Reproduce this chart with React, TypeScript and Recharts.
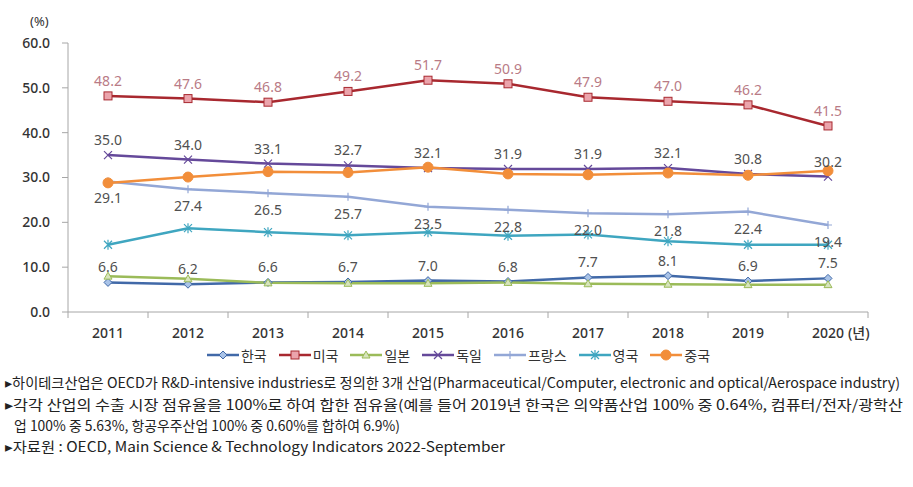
import { LineChart, Line, XAxis, YAxis, LabelList } from "recharts";

const years = [2011, 2012, 2013, 2014, 2015, 2016, 2017, 2018, 2019, 2020];
const korea = [6.6, 6.2, 6.6, 6.7, 7.0, 6.8, 7.7, 8.1, 6.9, 7.5];
const usa = [48.2, 47.6, 46.8, 49.2, 51.7, 50.9, 47.9, 47.0, 46.2, 41.5];
const japan = [8.0, 7.4, 6.5, 6.4, 6.4, 6.6, 6.3, 6.2, 6.1, 6.1];
const germany = [35.0, 34.0, 33.1, 32.7, 32.1, 31.9, 31.9, 32.1, 30.8, 30.2];
const france = [29.1, 27.4, 26.5, 25.7, 23.5, 22.8, 22.0, 21.8, 22.4, 19.4];
const uk = [15.0, 18.7, 17.8, 17.1, 17.8, 17.0, 17.3, 15.8, 15.0, 15.0];
const china = [28.8, 30.1, 31.3, 31.1, 32.3, 30.8, 30.6, 31.0, 30.5, 31.5];
const yTicks = [0, 10, 20, 30, 40, 50, 60];

const footnotes = [
  "▸하이테크산업은 OECD가 R&D-intensive industries로 정의한 3개 산업(Pharmaceutical/Computer, electronic and optical/Aerospace industry)",
  "▸각각 산업의 수출 시장 점유율을 100%로 하여 합한 점유율(예를 들어 2019년 한국은 의약품산업 100% 중 0.64%, 컴퓨터/전자/광학산",
  "업 100% 중 5.63%, 항공우주산업 100% 중 0.60%를 합하여 6.9%)",
  "▸자료원 : OECD, Main Science & Technology Indicators 2022-September",
];

type Shape = "diamond" | "square" | "triangle" | "x" | "plus" | "star" | "circle";

const series: {
  key: string; name: string; values: number[]; color: string; fill: string;
  shape: Shape; label?: "top" | "bottom"; labelColor?: string;
}[] = [
  { key: "korea", name: "한국", values: korea, color: "#4169a8", fill: "#a9c3e8", shape: "diamond", label: "top", labelColor: "#505050" },
  { key: "usa", name: "미국", values: usa, color: "#a8282f", fill: "#eba4ac", shape: "square", label: "top", labelColor: "#b97b86" },
  { key: "japan", name: "일본", values: japan, color: "#9bbb59", fill: "#d7e4bd", shape: "triangle" },
  { key: "germany", name: "독일", values: germany, color: "#65499a", fill: "#65499a", shape: "x", label: "top", labelColor: "#505050" },
  { key: "france", name: "프랑스", values: france, color: "#93a7d6", fill: "#93a7d6", shape: "plus", label: "bottom", labelColor: "#505050" },
  { key: "uk", name: "영국", values: uk, color: "#3fa6c0", fill: "#3fa6c0", shape: "star" },
  { key: "china", name: "중국", values: china, color: "#f28e3a", fill: "#f28e3a", shape: "circle" },
];

const data = years.map((year, i) => {
  const row: Record<string, number> = { year };
  series.forEach((s) => (row[s.key] = s.values[i]));
  return row;
});

// 카테고리 경계(눈금선) + 중앙(연도 라벨)
const xTicks = [...years.map((y) => y - 0.5), years[years.length - 1] + 0.5, ...years].sort((a, b) => a - b);

const FONT = "'Noto Sans', 'Noto Sans CJK KR', sans-serif";

function Marker({ shape, cx, cy, color, fill }: { shape: Shape; cx: number; cy: number; color: string; fill: string }) {
  const r = 4;
  switch (shape) {
    case "diamond":
      return <path d={`M${cx},${cy - r} L${cx + r},${cy} L${cx},${cy + r} L${cx - r},${cy} Z`} fill={fill} stroke={color} strokeWidth={1} />;
    case "square":
      return <rect x={cx - 4} y={cy - 4} width={8} height={8} fill={fill} stroke={color} strokeWidth={1} />;
    case "triangle":
      return <path d={`M${cx},${cy - r} L${cx + r},${cy + r - 1} L${cx - r},${cy + r - 1} Z`} fill={fill} stroke={color} strokeWidth={1} />;
    case "x":
      return <path d={`M${cx - r},${cy - r} L${cx + r},${cy + r} M${cx - r},${cy + r} L${cx + r},${cy - r}`} stroke={color} strokeWidth={1.2} />;
    case "plus":
      return <path d={`M${cx},${cy - r} L${cx},${cy + r} M${cx - r},${cy} L${cx + r},${cy}`} stroke={color} strokeWidth={1.2} />;
    case "star":
      return (
        <path
          d={`M${cx - r},${cy - r} L${cx + r},${cy + r} M${cx - r},${cy + r} L${cx + r},${cy - r} M${cx},${cy - r - 1} L${cx},${cy + r + 1}`}
          stroke={color}
          strokeWidth={1.2}
        />
      );
    default:
      return <circle cx={cx} cy={cy} r={5} fill={fill} stroke={color} strokeWidth={1} />;
  }
}

function YearTick(props: any) {
  const { x, y, payload } = props;
  const v = payload.value as number;
  if (!Number.isInteger(v)) {
    return <line x1={x} x2={x} y1={y - 8} y2={y - 2} stroke="#a6a6a6" strokeWidth={1} />;
  }
  return (
    <g>
      <text x={x} y={y} dy={18} textAnchor="middle" fontSize={14} fontWeight={500} fill="#333" fontFamily={FONT}>
        {v}
      </text>
      {v === years[years.length - 1] && (
        <text x={x + 20} y={y} dy={18} textAnchor="start" fontSize={14} fontWeight={500} fill="#333" fontFamily={FONT}>
          (년)
        </text>
      )}
    </g>
  );
}

export default function App() {
  return (
    <div style={{ position: "absolute", left: 0, top: 0, width: 913, height: 487, background: "#fff", fontFamily: FONT }}>
      <div style={{ position: "absolute", left: 30, top: 12, fontSize: 13, color: "#333" }}>(%)</div>
      <LineChart width={913} height={345} data={data} margin={{ top: 43, right: 45, bottom: 0, left: 0 }}>
        <XAxis
          dataKey="year"
          type="number"
          domain={[years[0] - 0.5, years[years.length - 1] + 0.5]}
          ticks={xTicks}
          interval={0}
          tick={<YearTick />}
          tickLine={false}
          axisLine={{ stroke: "#a6a6a6" }}
          height={33}
        />
        <YAxis
          domain={[0, 60]}
          ticks={yTicks}
          tickFormatter={(v) => Number(v).toFixed(1)}
          tick={{ fontSize: 14, fontWeight: 500, fill: "#333", fontFamily: FONT }}
          axisLine={{ stroke: "#a6a6a6" }}
          tickLine={{ stroke: "#a6a6a6" }}
          tickSize={6}
          tickMargin={12}
          width={68}
        />
        {series.map((s) => (
          <Line
            key={s.key}
            dataKey={s.key}
            stroke={s.color}
            strokeWidth={2.5}
            isAnimationActive={false}
            dot={(p: any) => <Marker key={`${s.key}-${p.index}`} shape={s.shape} cx={p.cx} cy={p.cy} color={s.color} fill={s.fill} />}
            activeDot={false}
          >
            {s.label && (
              <LabelList
                dataKey={s.key}
                position={s.label}
                offset={s.label === "top" ? 10 : 12}
                fill={s.labelColor}
                fontSize={14}
                fontFamily={FONT}
                formatter={(v: any) => Number(v).toFixed(1)}
              />
            )}
          </Line>
        ))}
      </LineChart>

      {/* 범례 */}
      <div style={{ position: "absolute", left: 0, top: 347, width: 913, display: "flex", justifyContent: "center", gap: 12, marginLeft: 2 }}>
        {series.map((s) => (
          <span key={s.key} style={{ display: "inline-flex", alignItems: "center", gap: 2 }}>
            <svg width={32} height={12}>
              <line x1={0} x2={32} y1={6} y2={6} stroke={s.color} strokeWidth={2.5} />
              <Marker shape={s.shape} cx={16} cy={6} color={s.color} fill={s.fill} />
            </svg>
            <span style={{ fontSize: 14, color: "#333", fontFamily: "'Noto Sans CJK KR', sans-serif", lineHeight: "16px" }}>{s.name}</span>
          </span>
        ))}
      </div>

      {/* 주석 */}
      <svg width={913} height={110} style={{ position: "absolute", left: 0, top: 370 }} fontFamily="'Noto Sans CJK KR', sans-serif" fontSize={14} fill="#222">
        <text x={5} y={18} textLength={895} lengthAdjust="spacingAndGlyphs">{footnotes[0]}</text>
        <text x={5} y={40} textLength={898} lengthAdjust="spacingAndGlyphs">{footnotes[1]}</text>
        <text x={14} y={61} textLength={386} lengthAdjust="spacingAndGlyphs">{footnotes[2]}</text>
        <text x={5} y={82} textLength={500} lengthAdjust="spacingAndGlyphs">{footnotes[3]}</text>
      </svg>
    </div>
  );
}
